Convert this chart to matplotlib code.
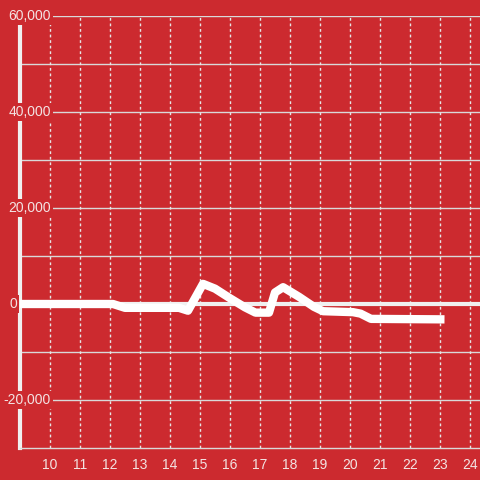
import numpy as np
import matplotlib
matplotlib.use("Agg")
import matplotlib.pyplot as plt

# hour of day vs. value
hours = [9, 12.1, 12.5, 14.3, 14.6, 15.1, 15.5, 16.0, 16.5, 16.85, 17.3, 17.5,
         17.77, 18.3, 18.8, 19.1, 20.1, 20.35, 20.7, 23.15]
values = [0, 0, -800, -800, -1400, 4200, 3200, 1200, -700, -1800, -1800, 2400,
          3500, 1500, -600, -1500, -1700, -2000, -3100, -3200]

x_ticks = list(range(10, 25))
y_ticks = [-20000, 0, 20000, 40000, 60000]

bg = '#cc2a2f'
txt = '#f3e3e3'

plt.rcParams['font.family'] = ['Liberation Sans', 'DejaVu Sans']

fig = plt.figure(figsize=(4.8, 4.8), dpi=100, facecolor=bg)
ax = fig.add_axes([20 / 480, 32 / 480, 460 / 480, 432 / 480])
ax.set_facecolor(bg)
ax.set_xlim(9, 24 + 1 / 3)
ax.set_ylim(-30000, 60000)

# grid
for yv in range(-20000, 60001, 10000):
    ax.axhline(yv, color='#d9d9d9', lw=1, zorder=1)
for xv in x_ticks:
    ax.axvline(xv, color='#e6e6e6', lw=1, ls=(0, (2, 2)), zorder=1)
ax.axhline(0, color='#f0f0f0', lw=3, zorder=2)

ax.plot(hours, values, color='white', lw=6, solid_joinstyle='round',
        solid_capstyle='butt', zorder=3)

for s in ['top', 'right']:
    ax.spines[s].set_visible(False)
ax.spines['left'].set_color('#f0f0f0')
ax.spines['left'].set_linewidth(3)
ax.spines['bottom'].set_color('#d9d9d9')
ax.spines['bottom'].set_linewidth(1)

ax.set_xticks(x_ticks)
ax.set_xticklabels([str(h) for h in x_ticks])
ax.tick_params(axis='x', length=0, pad=7, colors=txt, labelsize=10)
ax.set_yticks([])

# y labels sit on top of the spine with a background patch
for yv in y_ticks:
    lab = f'{yv:,}'
    if yv == 0:
        xpos = 8.9
    else:
        xpos = 10.03
    ax.text(xpos, yv, lab, ha='right', va='center', color=txt, fontsize=10,
            zorder=5, clip_on=False,
            bbox=dict(facecolor=bg, edgecolor='none', pad=1.5))

fig.savefig('out.png', dpi=100, facecolor=bg)
